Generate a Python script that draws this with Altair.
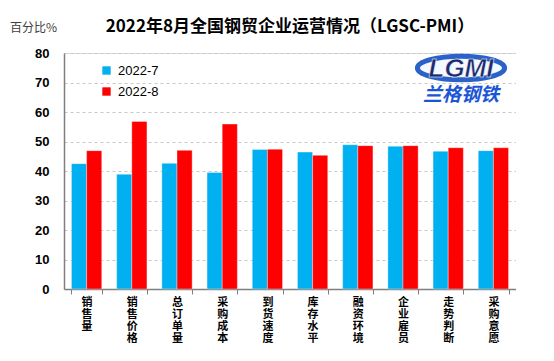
import altair as alt
import pandas as pd

categories = ["销售量", "销售价格", "总订单量", "采购成本", "到货速度",
              "库存水平", "融资环境", "企业雇员", "走势判断", "采购意愿"]
series_names = ["2022-7", "2022-8"]
values_jul = [42.5, 38.9, 42.6, 39.5, 47.3, 46.4, 48.9, 48.4, 46.7, 46.9]
values_aug = [46.9, 56.8, 47.0, 55.9, 47.4, 45.3, 48.6, 48.6, 47.9, 47.9]
colors = ["#00B0F0", "#FF0000"]
y_ticks = [0, 10, 20, 30, 40, 50, 60, 70, 80]
title_text = "2022年8月全国钢贸企业运营情况（LGSC-PMI）"
y_title = "百分比%"

rows = []
for c, a, b in zip(categories, values_jul, values_aug):
    rows.append({"cat": c, "series": series_names[0], "value": a})
    rows.append({"cat": c, "series": series_names[1], "value": b})
df = pd.DataFrame(rows)

CJK = "Noto Sans CJK SC"
LAT = "Liberation Sans"
W, H = 452, 236

bars = alt.Chart(df).mark_bar(stroke="white", strokeWidth=0.6, strokeOpacity=0.6).encode(
    x=alt.X("cat:N", sort=categories,
            scale=alt.Scale(paddingInner=0.33, paddingOuter=0.165),
            axis=alt.Axis(title=None, labelAngle=0, labelExpr="split(datum.label, '')",
                          labelFont=CJK, labelFontSize=11, labelFontWeight="bold",
                          labelLineHeight=12, labelColor="#000", labelPadding=2,
                          labelBaseline="top", labelAlign="center",
                          tickBand="extent", tickSize=5, tickColor="#7f7f7f",
                          domainColor="#7f7f7f", domainWidth=1.5, grid=False)),
    xOffset=alt.XOffset("series:N", sort=series_names),
    y=alt.Y("value:Q", scale=alt.Scale(domain=[0, 80], nice=False),
            axis=alt.Axis(values=y_ticks, title=None,
                          labelFont=LAT, labelFontSize=13, labelFontWeight="bold",
                          labelColor="#000", labelPadding=15,
                          ticks=False, domainColor="#7f7f7f", domainWidth=1.5,
                          grid=True, gridDash=[3, 3], gridColor="#c8c8c8")),
    color=alt.Color("series:N", sort=series_names,
                    scale=alt.Scale(domain=series_names, range=colors),
                    legend=alt.Legend(title=None, orient="none", legendX=36, legendY=11,
                                      symbolType="square", symbolSize=70,
                                      symbolStrokeWidth=0,
                                      labelFont=LAT, labelFontSize=13, labelColor="#000",
                                      rowPadding=7, labelOffset=5)),
)

one = pd.DataFrame({"k": [0]})
title_mark = alt.Chart(one).mark_text(
    text=title_text, font=CJK, fontSize=17, fontWeight="bold", color="#000",
    align="center", baseline="middle"
).encode(x=alt.value(W / 2), y=alt.value(-26))
ytitle_mark = alt.Chart(one).mark_text(
    text=y_title, font=CJK, fontSize=12, color="#404040",
    align="left", baseline="middle"
).encode(x=alt.value(-54), y=alt.value(-25))

ellipse = alt.Chart(one).mark_point(
    shape="M-1,0 A1,0.27 0 1,0 1,0 A1,0.27 0 1,0 -1,0 Z",
    filled=True, fill="#f4f8ff", stroke="#2a62c9", strokeWidth=5, opacity=1,
    size=7600
).encode(x=alt.value(397), y=alt.value(15))
logo_text = alt.Chart(one).mark_text(
    text="LGMI", font=LAT, fontSize=26, fontWeight="bold", fontStyle="italic",
    color="#1c2a6e", stroke="white", strokeWidth=0.5, baseline="middle"
).encode(x=alt.value(397), y=alt.value(16))
logo_cn = alt.Chart(one).mark_text(
    text="兰格钢铁", font=CJK, fontSize=19, fontWeight="bold", fontStyle="italic",
    color="#1a55d6", baseline="middle"
).encode(x=alt.value(397), y=alt.value(42))

chart = alt.layer(bars, ellipse, logo_text, logo_cn, title_mark, ytitle_mark).properties(
    width=W, height=H,
    padding={"left": 2, "top": 10, "right": 0, "bottom": 0},
).configure_view(stroke=None).configure(background="white")

chart.save("out.html", embed_options={"renderer": "svg", "actions": False})
